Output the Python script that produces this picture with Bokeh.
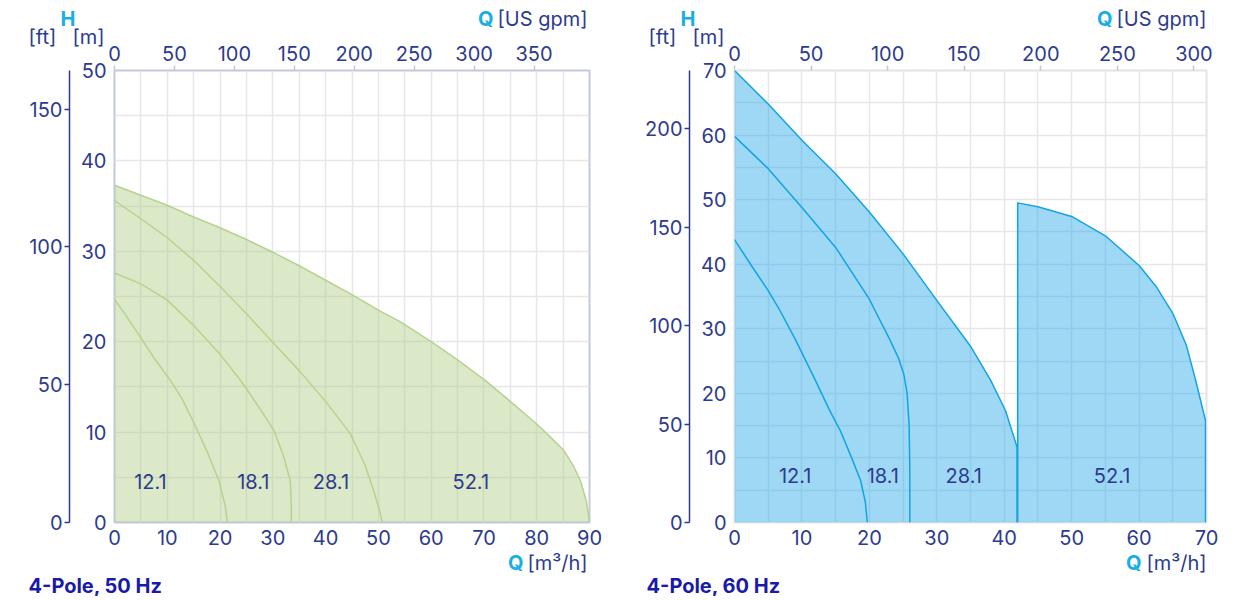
from bokeh.plotting import figure
from bokeh.models import LinearAxis, Range1d, SingleIntervalTicker, Title
from bokeh.layouts import row
from bokeh.embed import file_html
from bokeh.resources import INLINE
from bokeh.core.properties import value

# ---------------- data ----------------
# 4-Pole, 50 Hz  (Q in m3/h, H in m)
q50_121 = [0, 2.5, 4.9, 7.5, 10.6, 12.8, 15.7, 17.5, 19.8, 21.0, 21.4]
h50_121 = [24.7, 22.6, 20.5, 18.2, 15.7, 13.7, 10.2, 7.9, 4.6, 1.8, 0]
q50_181 = [0, 5, 10, 15, 20, 23.9, 25, 28, 30.2, 32, 33.3, 33.5, 33.5]
h50_181 = [27.6, 26.4, 24.6, 21.8, 18.6, 15.7, 14.8, 12.2, 10.2, 7.4, 4.6, 2.0, 0]
q50_281 = [0, 5, 10, 15, 20, 25, 30, 35, 40, 44.7, 47.5, 49.1, 50.3, 50.7]
h50_281 = [35.6, 33.6, 31.5, 29.0, 26.1, 23.1, 19.9, 16.8, 13.4, 9.8, 6.3, 3.5, 1.2, 0]
q50_521 = [0, 5, 10, 15, 20, 25, 30, 35, 40, 45, 50, 54.2, 60, 65, 70.3, 75, 80, 82.5, 85.1,
           87, 88.3, 89.4, 90]
h50_521 = [37.3, 36.2, 35.1, 33.8, 32.6, 31.3, 29.9, 28.4, 26.8, 25.2, 23.5, 22.2, 20.0, 18.0,
           15.7, 13.4, 10.9, 9.5, 8.0, 6.2, 4.6, 2.4, 0]

# 4-Pole, 60 Hz
q60_121 = [0, 2.5, 5, 6.6, 9, 12, 14, 15.7, 17.3, 18.7, 19.4, 19.7]
h60_121 = [43.8, 39.8, 35.9, 33.1, 28.4, 22.0, 17.6, 14.2, 10.2, 6.5, 3.2, 0]
q60_181 = [0, 5, 10, 15, 20, 20.7, 23, 24.3, 25.1, 25.6, 25.9, 26, 26]
h60_181 = [59.8, 54.8, 48.8, 42.6, 34.6, 33.1, 28.4, 25.5, 23.0, 20.0, 15.0, 8.0, 0]
q60_281 = [0, 5, 10, 15, 20, 25, 30, 35, 38, 40.2, 41.9]
h60_281 = [70, 64.8, 59.2, 54.0, 48.1, 41.6, 34.4, 27.3, 22.0, 17.3, 11.7]
q60_521 = [42, 45, 50, 55, 60, 62.5, 65, 67, 68.4, 69.85]
h60_521 = [49.5, 48.9, 47.4, 44.4, 39.8, 36.6, 32.4, 27.5, 22.0, 15.8]

curve_names = ["12.1", "18.1", "28.1", "52.1"]
label_q50 = [6.8, 26.3, 41.0, 67.5]
label_h50 = [4.5, 4.5, 4.5, 4.5]
label_q60 = [9.0, 22.0, 34.0, 56.0]
label_h60 = [7.3, 7.3, 7.3, 7.3]

Q_MAX_50, H_MAX_50 = 90, 50
Q_MAX_60, H_MAX_60 = 70, 70
GPM_PER_M3H = 4.402868
FT_PER_M = 3.28084

# ---------------- style ----------------
FONT = "Inter"
NAVY = "#2d3b8e"
CYAN = "#1aaee6"
TITLE_BLUE = "#1a1aa8"
FS = "20px"
H_EST = 24  # estimated text box height for 20px text


def overlay(p, side, text, align, offset, color=NAVY, bold=False, size=FS, h=H_EST):
    # zero-height title: drawn centred on the boundary of its slot
    p.add_layout(Title(text=text, align=align, offset=offset, vertical_align="middle",
                       standoff=-(2 + h), text_color=color, text_font=FONT,
                       text_font_size=size, text_font_style="bold" if bold else "normal"), side)


def spacer(p, side, d):
    p.add_layout(Title(text=" ", standoff=d - 2 - H_EST, text_font=FONT,
                       text_font_size=FS, vertical_align="middle"), side)


def build(width, min_right, xmax, ymax, curves, fills, lq, lh,
          fill_color, fill_alpha, line_color, outline_color, title, offs):
    p = figure(width=width, height=596, x_range=Range1d(0, xmax), y_range=Range1d(0, ymax),
               output_backend="svg", toolbar_location=None,
               min_border_left=114, min_border_right=min_right,
               min_border_top=70, min_border_bottom=74)
    p.extra_x_ranges = {"gpm": Range1d(0, xmax * GPM_PER_M3H)}
    p.extra_y_ranges = {"ft": Range1d(0, ymax * FT_PER_M)}
    p.outline_line_color = outline_color
    p.outline_line_width = 2

    p.xgrid.ticker = SingleIntervalTicker(interval=5)
    p.ygrid.ticker = SingleIntervalTicker(interval=5)
    p.grid.grid_line_color = "#e6e6eb"
    p.grid.grid_line_width = 1.5

    for q, h in fills:
        p.patch(x=[q[0]] + q + [q[-1]], y=[0] + h + [0],
                fill_color=fill_color, fill_alpha=fill_alpha, line_color=None)
    for q, h in curves:
        xs, ys = list(q), list(h)
        if ys[0] != 0 and xs[0] != 0:
            xs, ys = [xs[0]] + xs, [0] + ys
        if ys[-1] != 0:
            xs, ys = xs + [xs[-1]], ys + [0]
        p.line(x=xs, y=ys, line_color=line_color, line_width=1.5, line_join="round")

    p.text(x=lq, y=lh, text=curve_names, text_font=value(FONT), text_font_size=FS,
           text_color=NAVY, text_align="center", text_baseline="middle")

    # axes
    ym = p.yaxis[0]
    ym.ticker = SingleIntervalTicker(interval=10)
    ym.axis_line_color = None
    ym.major_label_standoff = 8
    ym.axis_label = " "
    ym.axis_label_text_font_size = "1px"
    ym.axis_label_standoff = 4

    yft = LinearAxis(y_range_name="ft", ticker=SingleIntervalTicker(interval=50))
    yft.axis_line_color = NAVY
    yft.axis_line_width = 1.5
    yft.major_tick_out = 5
    yft.major_tick_in = 0
    yft.major_tick_line_color = NAVY
    yft.major_tick_line_width = 1.5
    yft.major_label_standoff = 2
    p.add_layout(yft, "left")

    xq = p.xaxis[0]
    xq.ticker = SingleIntervalTicker(interval=10)
    xq.axis_line_color = None
    xq.major_label_standoff = 7

    xg = LinearAxis(x_range_name="gpm", ticker=SingleIntervalTicker(interval=50))
    xg.axis_line_color = None
    xg.major_tick_out = 5
    xg.major_tick_in = 0
    xg.major_tick_line_color = "#c8c8d2"
    xg.major_tick_line_width = 1.5
    xg.major_label_standoff = 5
    p.add_layout(xg, "above")

    for ax in (ym, yft, xq, xg):
        ax.major_label_text_font = FONT
        ax.major_label_text_font_size = FS
        ax.major_label_text_color = NAVY
        ax.minor_tick_out = 0
        ax.minor_tick_in = 0
    for ax in (ym, xq):
        ax.major_tick_out = 0
        ax.major_tick_in = 0

    # texts outside the frame
    q_top, unit_top, q_bot, unit_bot, title_off = offs
    spacer(p, "above", 6)
    overlay(p, "above", "[ft]", "left", -86)
    overlay(p, "above", "[m]", "left", -42)
    spacer(p, "above", 18)
    overlay(p, "above", "H", "left", -54, CYAN, True)
    overlay(p, "above", "[US gpm]", "right", unit_top)
    overlay(p, "above", "Q", "right", q_top, CYAN, True)

    spacer(p, "below", 15)
    overlay(p, "below", "[m³/h]", "right", unit_bot)
    overlay(p, "below", "Q", "right", q_bot, CYAN, True)
    spacer(p, "below", 23)
    overlay(p, "below", title, "left", title_off, TITLE_BLUE, True, "20px", 24)
    return p


p1 = build(620, 31, Q_MAX_50, H_MAX_50,
           [(q50_121, h50_121), (q50_181, h50_181), (q50_281, h50_281), (q50_521, h50_521)],
           [(q50_521, h50_521)], label_q50, label_h50,
           "#a8c878", 0.4, "#b5d38e", "#c3c8de", "4-Pole, 50 Hz",
           (96, 2, 66, 2, -86))
p2 = build(610, 24, Q_MAX_60, H_MAX_60,
           [(q60_121, h60_121), (q60_181, h60_181), (q60_281, h60_281), (q60_521, h60_521)],
           [(q60_281, h60_281), (q60_521, h60_521)], label_q60, label_h60,
           "#27a8e8", 0.45, "#12a5e0", "#e3e3e6", "4-Pole, 60 Hz",
           (94, 0, 65, 0, -88))

layout = row(p1, p2)
open("out.html", "w").write(file_html(layout, INLINE))
